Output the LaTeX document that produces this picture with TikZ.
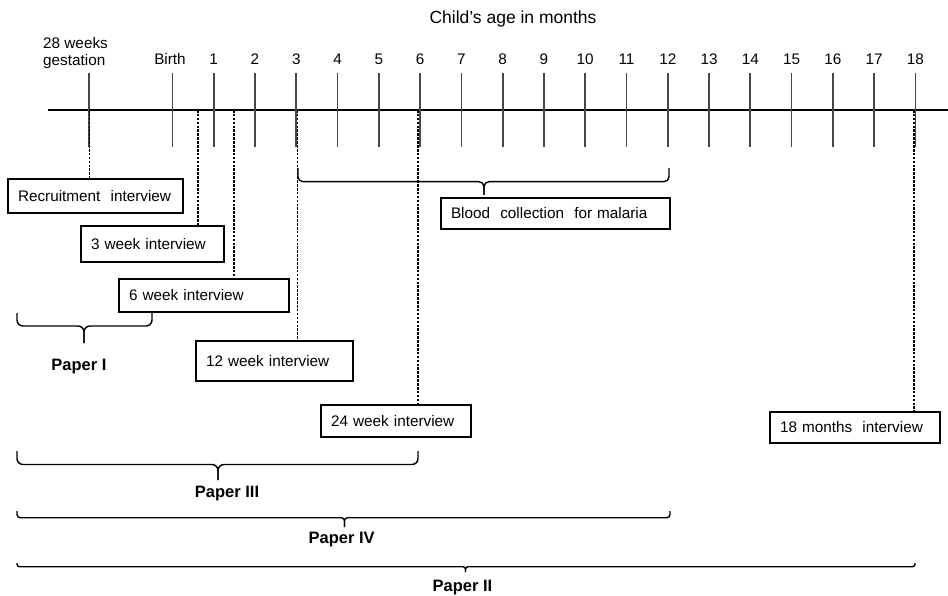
\documentclass[tikz,border=0pt]{standalone}
\usepackage{fontspec}
\setmainfont{Liberation Sans}
\newcommand\pbrace[7]{%
  \draw[brc, rounded corners=#7pt] (#1,#3) -- (#1,#4) -- (#6,#4) -- (#6,#5);
  \draw[brc, rounded corners=#7pt] (#2,#3) -- (#2,#4) -- (#6,#4) -- (#6,#5);}
\begin{document}
\begin{tikzpicture}[x=1pt,y=-1pt,
  lbl/.style={font=\fontsize{15.3}{17}\selectfont, inner sep=0pt, anchor=base},
  papr/.style={font=\fontsize{16.5}{19}\selectfont\bfseries, inner sep=0pt, anchor=base},
  ibox/.style={draw, line width=1.4pt, anchor=north west, align=left, inner xsep=10pt,
     inner ysep=0pt, outer sep=0pt, font=\fontsize{15.3}{17}\selectfont},
  tick/.style={line width=1.7pt, black!72},
  lead/.style={line width=1.4pt, dash pattern=on 2.6pt off 1.3pt},
  brc/.style={line width=1.4pt}]
\useasboundingbox (0,0) rectangle (948,596);

% title
\node[font=\fontsize{17.5}{20}\selectfont, inner sep=0pt, anchor=base] (title) at (513,23.5) {Child’s age in months};

% axis
\coordinate (axL) at (48,110);
\coordinate (axR) at (948,110);
\draw[line width=1.4pt] (axL) -- (axR);

% ticks
\coordinate (g28) at (89.3,110);
\coordinate (birth) at (172.6,110);
\draw[tick] ([yshift=37pt]g28) -- ([yshift=-37pt]g28);
\draw[tick] ([yshift=37pt]birth) -- ([yshift=-37pt]birth);
\foreach \m in {1,...,18}{
  \coordinate (m\m) at ({213.7+(\m-1)*41.28},110);
  \draw[tick] ([yshift=37pt]m\m) -- ([yshift=-37pt]m\m);
  \node[lbl] (lab\m) at ({213.7+(\m-1)*41.28},64.5) {\m};
}
\node[lbl] (labbirth) at (170,64.5) {Birth};
\node[font=\fontsize{15.3}{17}\selectfont, inner sep=0pt, anchor=north west, align=left] (labg) at (43,37.5) {28 weeks\\gestation};

% leader coordinates
\coordinate (d3w) at (198,110);
\coordinate (d6w) at (234,110);

% boxes
\node[ibox, text width=155pt, minimum height=34pt] (rec) at (8,179) {Recruitment\ \ interview};
\node[ibox, text width=123pt, minimum height=36pt] (w3) at (81,226) {3 week interview};
\node[ibox, text width=150pt, minimum height=33pt] (w6) at (119,279) {6 week interview};
\node[ibox, text width=137pt, minimum height=40pt] (w12) at (196,341) {12 week interview};
\node[ibox, text width=130pt, minimum height=32pt] (w24) at (321,405) {24 week interview};
\node[ibox, text width=150pt, minimum height=31pt] (m18b) at (770,412) {18 months\ \ interview};
\node[ibox, text width=209pt, minimum height=31pt] (blood) at (441,198) {Blood\ \ collection\ \ for malaria};

% dashed leaders
\draw[lead] (g28) -- (g28 |- rec.north);
\draw[lead] (d3w) -- (d3w |- w3.north);
\draw[lead] (d6w) -- (d6w |- w6.north);
\draw[lead] ([xshift=1.5pt]m3) -- ([xshift=1.5pt]m3 |- w12.north);
\draw[lead] ([xshift=-2pt]m6) -- ([xshift=-2pt]m6 |- w24.north);
\draw[lead] ([xshift=-1.5pt]m18) -- ([xshift=-1.5pt]m18 |- m18b.north);

% braces
\pbrace{298}{669}{168}{181.7}{195}{484}{5}
\pbrace{17}{152}{313}{326}{343}{84}{6}
\pbrace{17}{418}{451}{464.5}{480}{218}{6}
\pbrace{17}{670}{511}{517.7}{527}{344.5}{3}
\pbrace{17}{915}{563}{566.7}{572}{465.5}{2.5}

% paper labels
\node[papr] (p1) at (79,370.7) {Paper I};
\node[papr] (p3) at (227,497) {Paper III};
\node[papr] (p4) at (341.6,543) {Paper IV};
\node[papr] (p2) at (462.5,591.7) {Paper II};
\end{tikzpicture}
\end{document}
